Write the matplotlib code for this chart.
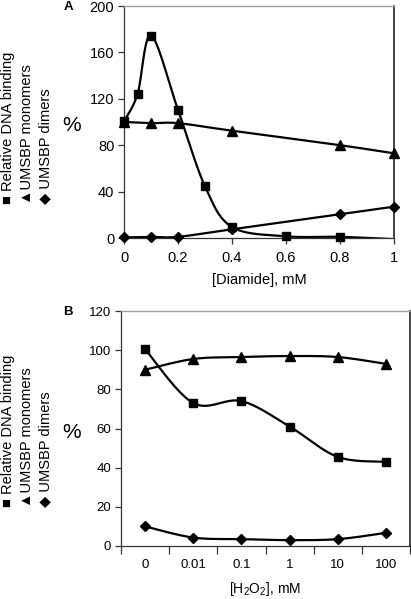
import numpy as np
import matplotlib
matplotlib.use('Agg')
import matplotlib.pyplot as plt

plt.rcParams['font.family'] = ['Liberation Sans', 'DejaVu Sans']
plt.rcParams['mathtext.fontset'] = 'custom'
plt.rcParams['mathtext.rm'] = 'Liberation Sans'
plt.rcParams['mathtext.default'] = 'regular'

# panel A: diamide
diamide_binding_x = [0, 0.05, 0.1, 0.2, 0.3, 0.4, 0.6, 0.8, 1.0]
diamide_binding_y = [100.5, 124, 174.5, 110.5, 44.5, 9.5, 1.5, 1.0, -1.0]
diamide_mono_x = [0, 0.1, 0.2, 0.4, 0.8, 1.0]
diamide_mono_y = [100, 99, 99, 92.5, 80, 73]
diamide_dimer_x = [0, 0.1, 0.2, 0.4, 0.8, 1.0]
diamide_dimer_y = [0.5, 1, 1, 7.5, 20.5, 27]

# panel B: H2O2 (categories)
h2o2_labels = ['0', '0.01', '0.1', '1', '10', '100']
h2o2_binding = [100.5, 73, 74, 61, 45.5, 43]
h2o2_mono = [90, 95.5, 96.5, 97, 96.5, 93]
h2o2_dimer = [10, 4.3, 3.5, 3, 3.5, 6.7]

legend_lines = ['\u25a0 Relative DNA binding', '\u25b2UMSBP monomers', '\u25c6 UMSBP dimers']


def smooth(x, y, n=30):
    # excel-like smoothed line (cardinal bezier through the points)
    x = np.asarray(x, float)
    y = np.asarray(y, float)
    px = np.concatenate([[x[0]], x, [x[-1]]])
    py = np.concatenate([[y[0]], y, [y[-1]]])
    t = np.linspace(0, 1, n)
    xs, ys = [], []
    for i in range(1, len(px) - 2):
        p0 = np.array([px[i], py[i]])
        p3 = np.array([px[i + 1], py[i + 1]])
        c1 = p0 + (np.array([px[i + 1], py[i + 1]]) - np.array([px[i - 1], py[i - 1]])) / 6
        c2 = p3 - (np.array([px[i + 2], py[i + 2]]) - np.array([px[i], py[i]])) / 6
        b = ((1 - t) ** 3)[:, None] * p0 + (3 * (1 - t) ** 2 * t)[:, None] * c1 \
            + (3 * (1 - t) * t ** 2)[:, None] * c2 + (t ** 3)[:, None] * p3
        xs.append(b[:, 0])
        ys.append(b[:, 1])
    return np.concatenate(xs), np.concatenate(ys)


def series(ax, x, y, marker, ms, markevery=None):
    sx, sy = smooth(x, y)
    ax.plot(sx, sy, color='black', lw=1.6, zorder=2)
    xm, ym = np.asarray(x), np.asarray(y)
    if markevery is not None:
        xm, ym = xm[markevery], ym[markevery]
    ax.plot(xm, ym, ls='none', marker=marker, ms=ms, color='black', zorder=3, clip_on=False)


def style_frame(ax):
    for s in ['left', 'bottom']:
        ax.spines[s].set_color('#333333')
        ax.spines[s].set_linewidth(0.9)
    ax.spines['top'].set_color('#a0a0a0')
    ax.spines['top'].set_linewidth(1.0)
    ax.spines['right'].set_color('#222222')
    ax.spines['right'].set_linewidth(1.2)


W, H = 411, 599
fig = plt.figure(figsize=(W / 100, H / 100), dpi=100)

# ---- panel A
axA = fig.add_axes([124 / W, 1 - 238 / H, 270 / W, 232 / H])
series(axA, diamide_binding_x, diamide_binding_y, 's', 6, markevery=slice(0, -1))
series(axA, diamide_mono_x, diamide_mono_y, '^', 7.5)
series(axA, diamide_dimer_x, diamide_dimer_y, 'D', 4.8)
axA.set_xlim(0, 1)
axA.set_ylim(0, 200)
axA.set_xticks(np.arange(0, 1.01, 0.2))
axA.set_xticklabels(['0', '0.2', '0.4', '0.6', '0.8', '1'])
axA.set_yticks(range(0, 201, 40))
axA.tick_params(axis='both', labelsize=10.5, length=4, width=0.9, color='#333333')
axA.tick_params(axis='x', pad=5)
axA.tick_params(axis='y', pad=3)
axA.set_xlabel('[Diamide], mM', fontsize=10.5, labelpad=6)
style_frame(axA)

# ---- panel B
axB = fig.add_axes([121 / W, 1 - 546 / H, 289 / W, 235 / H])
pos = np.arange(len(h2o2_labels))
series(axB, pos, h2o2_binding, 's', 6)
series(axB, pos, h2o2_mono, '^', 7.5)
series(axB, pos, h2o2_dimer, 'D', 4.8)
axB.set_xlim(-0.5, len(h2o2_labels) - 0.5)
axB.set_ylim(0, 120)
axB.set_xticks(pos)
axB.set_xticklabels(h2o2_labels)
axB.set_xticks(np.arange(-0.5, len(h2o2_labels)), minor=True)
axB.tick_params(axis='x', which='major', length=0, labelsize=9.5, pad=9)
axB.tick_params(axis='x', which='minor', length=5.5, width=0.9, color='#333333')
axB.tick_params(axis='y', labelsize=9.5, length=4, width=0.9, color='#333333', pad=3)
axB.set_yticks(range(0, 121, 20))
fig.text((121 + 289 / 2) / W, 1 - 589 / H, '[H$_2$O$_2$], mM', fontsize=10,
         ha='center', va='center')
style_frame(axB)

# y labels, panel letters, rotated legends
for ycen, letter, ly, lb in [(125, 'A', 7, 204), (432, 'B', 312, 507)]:
    fig.text(72 / W, 1 - ycen / H, '%', fontsize=15, ha='center', va='center')
    fig.text(68 / W, 1 - ly / H, letter, fontsize=9.5, fontweight='bold', ha='center', va='center')
    for xc, txt in zip([8, 27, 45], legend_lines):
        fig.text(xc / W, 1 - lb / H, txt, fontsize=10.5, rotation=90,
                 rotation_mode='anchor', ha='left', va='center')

fig.savefig('out.png', dpi=100)
